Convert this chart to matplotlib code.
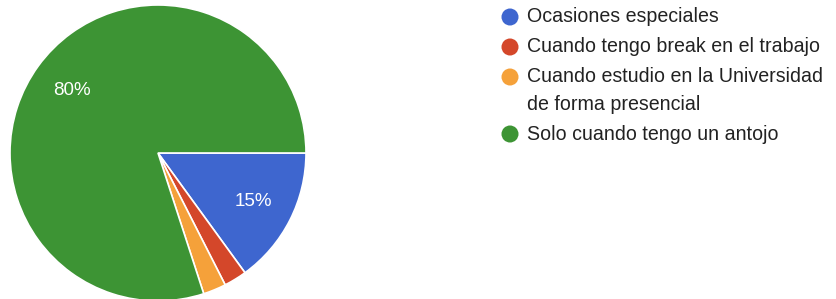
import matplotlib
matplotlib.use("Agg")
import matplotlib.pyplot as plt

categories = ["Ocasiones especiales",
              "Cuando tengo break en el trabajo",
              "Cuando estudio en la Universidad\nde forma presencial",
              "Solo cuando tengo un antojo"]
values = [15, 2.5, 2.5, 80]
colors = ["#3e66cf", "#d4472a", "#f5a13a", "#3d9434"]

plt.rcParams['font.family'] = ['Liberation Sans', 'DejaVu Sans']

W, H = 836, 299
fig = plt.figure(figsize=(W/100, H/100), dpi=100)

cx, cy, r = 158, 153, 148
ax = fig.add_axes([(cx - r)/W, (H - cy - r)/H, 2*r/W, 2*r/H])

def fmt(p):
    return f"{p:.0f}%" if p >= 5 else ""

wedges, texts, autotexts = ax.pie(values, colors=colors, startangle=0, counterclock=False,
                                  radius=1, autopct=fmt, pctdistance=0.72,
                                  wedgeprops=dict(edgecolor="white", linewidth=1.2),
                                  textprops=dict(color="white", fontsize=13.5))
ax.set_xlim(-1, 1)
ax.set_ylim(-1, 1)
ax.set_aspect('equal')
ax.axis('off')

ov = fig.add_axes([0, 0, 1, 1])
ov.set_xlim(0, W)
ov.set_ylim(H, 0)
ov.axis('off')

rows_y = [17, 47, 77, 134]
for lab, col, y in zip(categories, colors, rows_y):
    ov.scatter([510], [y], s=150, color=col, edgecolors='none')
    for i, ln in enumerate(lab.split('\n')):
        ov.text(527, y + 27*i, ln, fontsize=14.1, color="#222222", va='center')

fig.savefig("out.png", dpi=100)
